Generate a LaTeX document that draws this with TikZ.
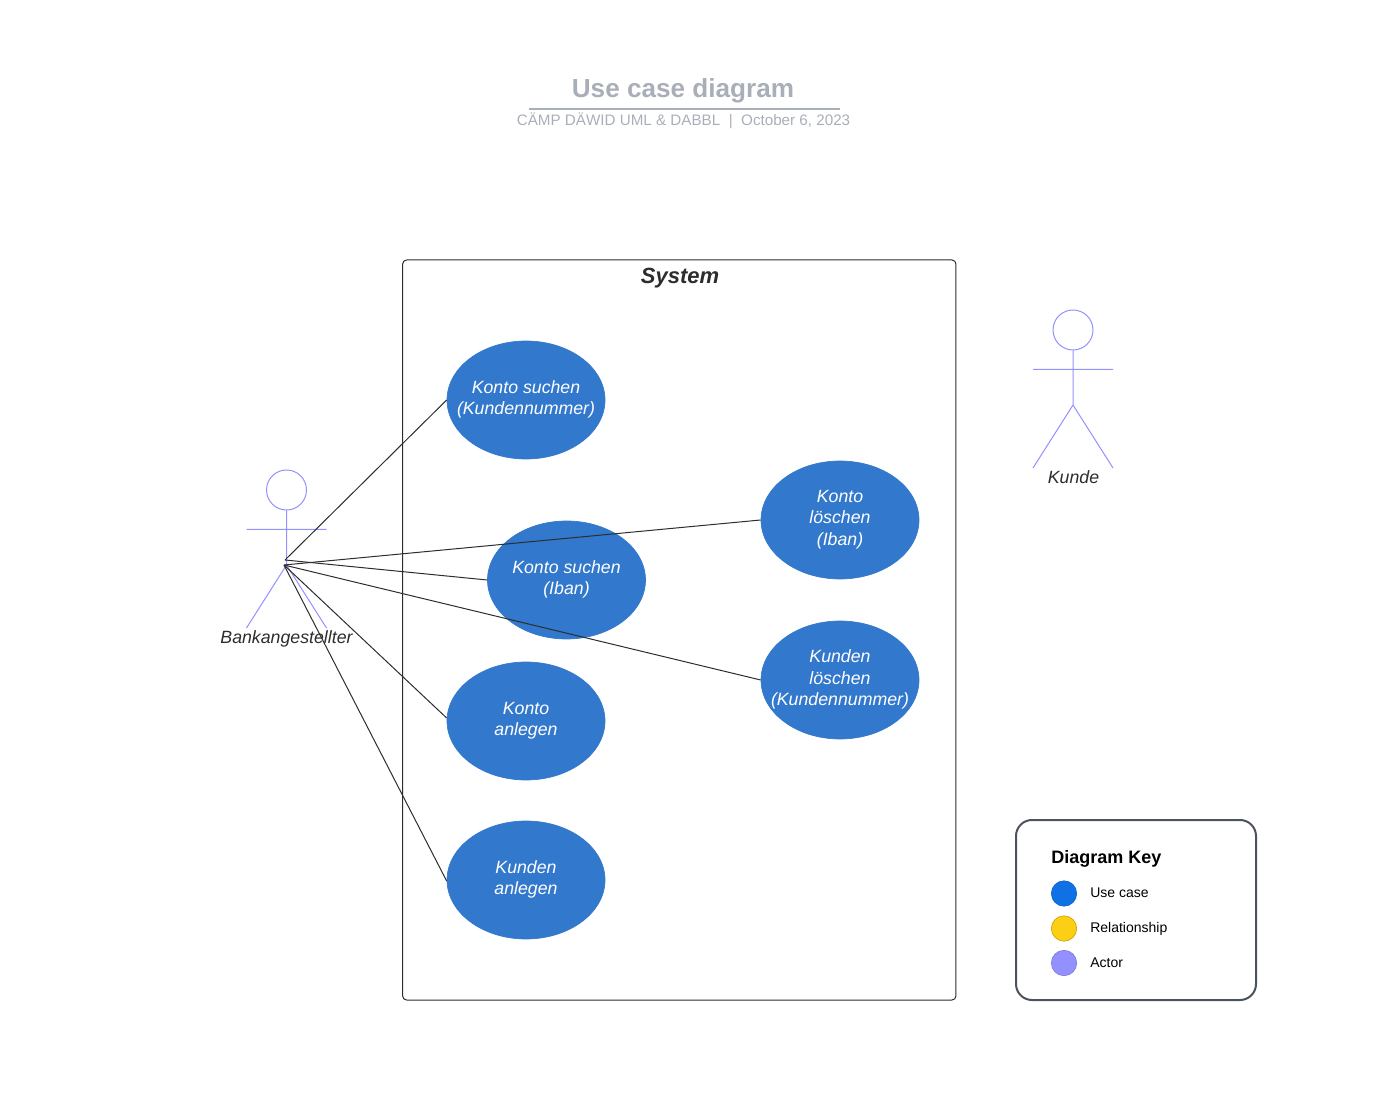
\documentclass[tikz,border=0pt]{standalone}
\usepackage{fontspec}
\setmainfont{Liberation Sans}
\usetikzlibrary{shapes.geometric}
\definecolor{ucblue}{HTML}{3278CC}
\definecolor{actorc}{HTML}{9391FF}
\definecolor{titlec}{HTML}{A9AFB9}
\definecolor{darkt}{HTML}{2D2D2D}
\definecolor{keyb}{HTML}{4C535D}
\definecolor{keyblue}{HTML}{1071E5}
\definecolor{keyyellow}{HTML}{FCCE14}
\tikzset{
 px/.style={x=0.75pt,y=-0.75pt},
 usecase/.style={ellipse,fill=ucblue,draw=ucblue,line width=0.5pt,minimum width=118.5pt,minimum height=88.5pt,inner sep=0pt},
 uctext/.style={inner sep=0pt,align=center,text=white,font=\fontsize{13.3}{16}\selectfont\itshape},
 actorline/.style={draw=actorc,line width=0.75pt},
 actorhead/.style={circle,draw=actorc,line width=0.75pt,minimum size=30pt,inner sep=0pt},
 actorlabel/.style={text=darkt,font=\fontsize{13.3}{16}\selectfont\itshape,inner sep=0pt},
 link/.style={draw=darkt,line width=0.75pt},
 keydot/.style={circle,minimum size=19pt,inner sep=0pt,line width=0.5pt},
 keytext/.style={anchor=west,inner sep=0pt,font=\fontsize{10.5}{12}\selectfont},
}
\begin{document}
\begin{tikzpicture}[px]
\useasboundingbox (0,0) rectangle (1386,1094);
% title
\node[text=titlec,font=\fontsize{19.6}{22}\selectfont\bfseries,inner sep=0pt] (title) at (683,91) {Use case diagram};
\coordinate (ruleL) at (529,109);
\coordinate (ruleR) at (840,109);
\draw[titlec,line width=1.5pt] (ruleL) -- (ruleR);
\node[text=titlec,font=\fontsize{11.4}{13}\selectfont,inner sep=0pt] (sub) at (683.5,121) {CÄMP DÄWID UML \& DABBL\ \ |\ \ October 6, 2023};
% system
\node[draw=darkt,line width=0.75pt,rounded corners=3pt,minimum width=415pt,minimum height=555pt,inner sep=0pt] (system) at (679.3,630) {};
\node[text=darkt,font=\fontsize{16.5}{19}\selectfont\bfseries\itshape,inner sep=0pt] (systemlabel) at (680,278) {System};
% use cases
\node[usecase] (u1) at (526,400) {};
\node[uctext] (t1) at (526,399.3) {Konto suchen\\(Kundennummer)};
\node[usecase] (u2) at (566.5,580) {};
\node[uctext] (t2) at (566.5,579.3) {Konto suchen\\(Iban)};
\node[usecase] (u3) at (526,721) {};
\node[uctext] (t3) at (526,720.5) {Konto\\anlegen};
\node[usecase] (u4) at (526,880) {};
\node[uctext] (t4) at (526,879.3) {Kunden\\anlegen};
\node[usecase] (u5) at (840,520) {};
\node[uctext] (t5) at (840,519.5) {Konto\\löschen\\(Iban)};
\node[usecase] (u6) at (840,680) {};
\node[uctext] (t6) at (840,679.5) {Kunden\\löschen\\(Kundennummer)};
% actor 1
\node[actorhead] (h1) at (286.5,490) {};
\coordinate (hip1) at (286.5,565);
\coordinate (armL1) at (246.5,529.5);
\coordinate (armR1) at (326.5,529.5);
\coordinate (footL1) at (246.5,628);
\coordinate (footR1) at (326.5,628);
\draw[actorline] (h1.south) -- (hip1) (armL1) -- (armR1) (footL1) -- (hip1) -- (footR1);
\node[actorlabel] (a1) at (286.5,639) {Bankangestellter};
% actor 2
\node[actorhead] (h2) at (1073,330) {};
\coordinate (hip2) at (1073,405);
\coordinate (armL2) at (1033,369.5);
\coordinate (armR2) at (1113,369.5);
\coordinate (footL2) at (1033,468);
\coordinate (footR2) at (1113,468);
\draw[actorline] (h2.south) -- (hip2) (armL2) -- (armR2) (footL2) -- (hip2) -- (footR2);
\node[actorlabel] (a2) at (1073.5,477) {Kunde};
% connectors
\coordinate (s1) at (285,560);
\coordinate (s2) at (284,565);
\draw[link] (s1) -- (u1.west);
\draw[link] (s1) -- (u2.west);
\draw[link] (s2) -- (u5.west);
\draw[link] (s2) -- (u6.west);
\draw[link] (s2) -- ([yshift=2.25pt]u3.west);
\draw[link] (s2) -- ([yshift=-0.75pt]u4.west);
% key
\node[draw=keyb,line width=1.5pt,rounded corners=12pt,minimum width=180pt,minimum height=135pt,inner sep=0pt] (key) at (1136,910) {};
\node[anchor=west,inner sep=0pt,font=\fontsize{13.5}{16}\selectfont\bfseries] (keyt) at (1051,859) {Diagram Key};
\node[keydot,fill=keyblue,draw=keyblue!90!black] (k1) at (1064,893.5) {};
\node[keydot,fill=keyyellow,draw=keyyellow!80!black] (k2) at (1064,928.5) {};
\node[keydot,fill=actorc,draw=actorc!85!black] (k3) at (1064,963) {};
\node[keytext] (kt1) at (1090,892.5) {Use case};
\node[keytext] (kt2) at (1090,928.5) {Relationship};
\node[keytext] (kt3) at (1090,963) {Actor};
\end{tikzpicture}
\end{document}
